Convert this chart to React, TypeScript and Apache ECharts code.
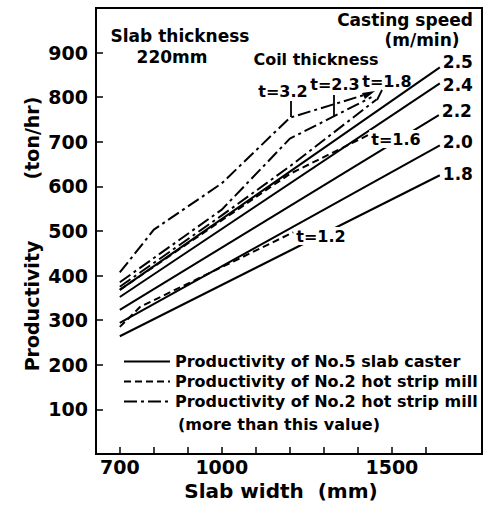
import React, { useEffect, useRef } from "react";
import * as echarts from "echarts";

// ---- axis ticks / labels ----
const yTickValues = [100, 200, 300, 400, 500, 600, 700, 800, 900];
const xTickValues = [700, 800, 900, 1000, 1100, 1200, 1300, 1400, 1500, 1600];
const xLabelValues = [700, 1000, 1500];

// ---- No.5 slab caster productivity (solid), by casting speed (m/min) ----
const casterSpeeds = ["2.5", "2.4", "2.2", "2.0", "1.8"];
const caster25 = [[700, 368], [1641, 867]];
const caster24 = [[700, 352], [1641, 831]];
const caster22 = [[700, 323], [1638, 760]];
const caster20 = [[700, 294], [1641, 692]];
const caster18 = [[700, 264], [1641, 625]];

// ---- No.2 hot strip mill productivity (dashed), by coil thickness ----
const hsmT16 = [[700, 368], [1200, 628], [1430, 715]];
const hsmT12 = [[700, 285], [760, 330], [1210, 497]];

// ---- No.2 hot strip mill, more than this value (dash-dot) ----
const hsmMoreT32 = [[700, 407], [800, 503], [1000, 607], [1200, 754], [1440, 810]];
const hsmMoreT23 = [[700, 385], [1000, 548], [1200, 707], [1440, 800]];
const hsmMoreT18 = [[700, 375], [1000, 535], [1200, 645], [1455, 795]];

const S1 = "Productivity of No.5 slab caster";
const S2 = "Productivity of No.2 hot strip mill";
const S3 = "Productivity of No.2 hot strip mill (more than this value)";

const FONT = "DejaVu Sans";
const DASH = [7, 4];
const DASHDOT = [13, 4, 3, 4];
const END_LABEL_DY = [-5, 2, -4, -3, -1];

export default function App() {
  const ref = useRef<HTMLDivElement>(null);

  useEffect(() => {
    if (!ref.current) return;
    const chart = echarts.init(ref.current, undefined, { renderer: "svg" });

    const casterData = [caster25, caster24, caster22, caster20, caster18];
    const solidSeries = casterData.map((d, i) => ({
      name: S1,
      type: "line",
      data: d,
      symbol: "none",
      color: "#000",
      itemStyle: { color: "#000" },
      lineStyle: { color: "#000", width: 2, type: "solid" },
      endLabel: {
        show: true,
        formatter: casterSpeeds[i],
        color: "#000",
        fontFamily: FONT,
        fontWeight: "bold",
        fontSize: 17,
        lineHeight: 16,
        distance: 3,
        offset: [0, END_LABEL_DY[i]],
      },
      z: 2,
    }));

    const dashedSeries = [hsmT16, hsmT12].map((d) => ({
      name: S2,
      type: "line",
      data: d,
      symbol: "none",
      color: "#000",
      itemStyle: { color: "#000" },
      lineStyle: { color: "#000", width: 2, type: DASH },
      z: 2,
    }));

    const dashDotSeries = [hsmMoreT32, hsmMoreT23, hsmMoreT18].map((d) => ({
      name: S3,
      type: "line",
      data: d,
      symbol: "none",
      color: "#000",
      itemStyle: { color: "#000" },
      lineStyle: { color: "#000", width: 2, type: DASHDOT },
      z: 2,
    }));

    const txt = (text: string, x: number, y: number, size: number, extra: any = {}, rotation = 0) => ({
      type: "text",
      x,
      y,
      z: 100,
      rotation,
      style: {
        text,
        fill: "#000",
        fontFamily: FONT,
        fontWeight: "bold",
        fontSize: size,
        align: "center",
        verticalAlign: "middle",
        ...extra,
      },
    });
    const seg = (x1: number, y1: number, x2: number, y2: number) => ({
      type: "line",
      z: 100,
      shape: { x1, y1, x2, y2 },
      style: { stroke: "#000", lineWidth: 1.8 },
    });

    chart.setOption({
      animation: false,
      backgroundColor: "#fff",
      textStyle: { fontFamily: FONT, color: "#000" },
      grid: {
        left: 96,
        right: 1,
        top: 8,
        bottom: 51,
        show: true,
        borderColor: "#000",
        borderWidth: 2,
      },
      xAxis: {
        type: "value",
        min: 630,
        max: 1765,
        splitLine: { show: false },
        axisLine: { show: true, lineStyle: { color: "#000", width: 2 } },
        axisTick: {
          show: true,
          inside: true,
          length: 7,
          customValues: xTickValues,
          lineStyle: { color: "#000", width: 1.5 },
        },
        axisLabel: {
          customValues: xLabelValues,
          formatter: (v: number) => String(v),
          color: "#000",
          fontFamily: FONT,
          fontWeight: "bold",
          fontSize: 19,
          lineHeight: 17,
          margin: 4,
        },
      },
      yAxis: {
        type: "value",
        min: 0,
        max: 1000,
        interval: 100,
        splitLine: { show: false },
        axisLine: { show: true, lineStyle: { color: "#000", width: 2 } },
        axisTick: {
          show: true,
          inside: true,
          length: 7,
          customValues: yTickValues,
          lineStyle: { color: "#000", width: 1.5 },
        },
        axisLabel: {
          customValues: yTickValues,
          formatter: (v: number) => String(v),
          color: "#000",
          fontFamily: FONT,
          fontWeight: "bold",
          fontSize: 19,
          margin: 8,
        },
      },
      legend: {
        show: true,
        orient: "vertical",
        left: 118,
        top: 347,
        itemWidth: 46,
        itemHeight: 12,
        itemGap: 1,
        data: [S1, S2, S3],
        formatter: (name: string) => (name === S3 ? S2 : name),
        itemStyle: { opacity: 0 },
        lineStyle: { color: "#000", width: 2 },
        textStyle: { color: "#000", fontFamily: FONT, fontWeight: "bold", fontSize: 16, lineHeight: 19 },
        selectedMode: false,
      },
      series: [...solidSeries, ...dashedSeries, ...dashDotSeries],
      graphic: [
        txt("Slab thickness", 180, 36, 17),
        txt("220mm", 172, 57, 17),
        txt("Coil thickness", 316, 59, 16),
        txt("Casting speed", 405, 20, 17),
        txt("(m/min)", 422, 40, 17),
        txt("t=3.2", 283, 91, 16),
        txt("t=2.3", 335, 84, 16),
        txt("t=1.8", 387, 81, 16),
        txt("t=1.6", 396, 139, 16, { backgroundColor: "#fff", padding: [1, 2] }),
        txt("t=1.2", 321, 236, 16, { backgroundColor: "#fff", padding: [1, 2] }),
        seg(291, 101, 291, 117),
        seg(334, 95, 334, 116),
        seg(382, 90, 377, 100),
        {
          type: "polygon",
          z: 100,
          shape: { points: [[375, 91], [362, 93], [365, 99]] },
          style: { fill: "#000" },
        },
        txt("(more than this value)", 178, 424, 16, { align: "left" }),
        txt("Productivity", 32, 306, 19, {}, Math.PI / 2),
        txt("(ton/hr)", 32, 138, 19, {}, Math.PI / 2),
        txt("Slab width  (mm)", 281, 491, 20, { lineHeight: 20 }),
      ],
    });

    return () => chart.dispose();
  }, []);

  return (
    <div
      ref={ref}
      style={{ position: "fixed", left: 0, top: 0, width: 483, height: 505, background: "#fff" }}
    />
  );
}
